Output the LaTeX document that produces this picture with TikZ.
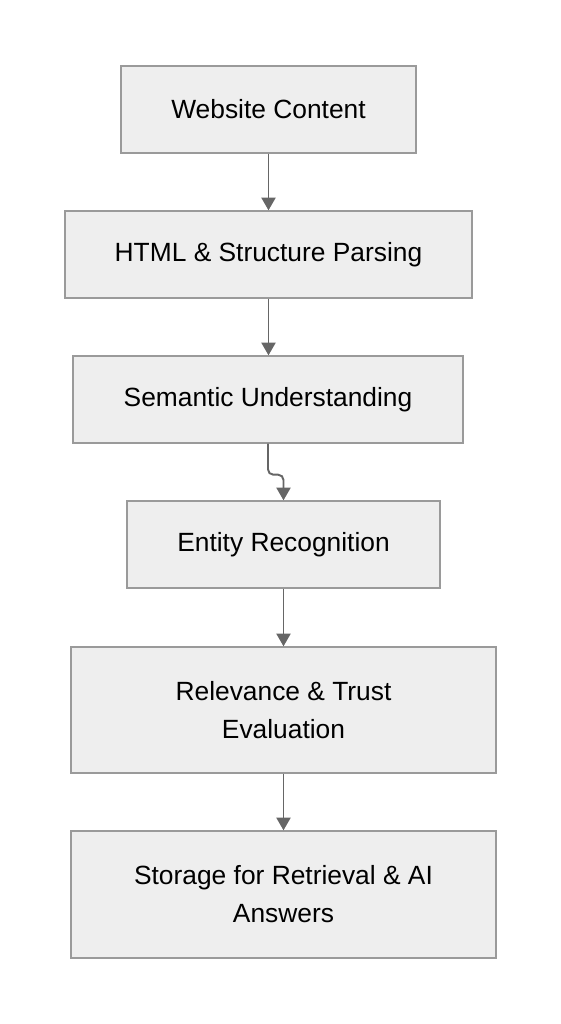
\documentclass[tikz,border=0pt]{standalone}
\usepackage{fontspec}
\setmainfont{Liberation Sans}
\usepackage{xcolor}
\usetikzlibrary{positioning,arrows.meta}
\definecolor{boxfill}{HTML}{EEEEEE}
\definecolor{boxline}{HTML}{9A9A9A}
\definecolor{arrowgray}{HTML}{666666}

\begin{document}
\begin{tikzpicture}[x=0.02cm,y=-0.02cm,
    stage/.style={draw=boxline, fill=boxfill, line width=0.8pt, minimum height=1.74cm,
                  align=center, inner sep=0pt, font=\fontsize{15}{21.6}\selectfont},
    flow/.style={draw=arrowgray, line width=1.1pt, -{Triangle[width=8pt,length=7.2pt]}}]
    \useasboundingbox (0,0) rectangle (561,1024);

    % Stages
    \node[stage, minimum width=5.9cm]  (web) at (268.5,109.5) {Website Content};
    \node[stage, minimum width=8.14cm] (html) at (268.5,254.5) {HTML \& Structure Parsing};
    \node[stage, minimum width=7.8cm]  (sem) at (268,399.5) {Semantic Understanding};
    \node[stage, minimum width=6.26cm] (ent) at (283.5,544.5) {Entity Recognition};
    \node[stage, minimum width=8.5cm, minimum height=2.52cm] (rel) at (283.5,710) {Relevance \& Trust\\Evaluation};
    \node[stage, minimum width=8.5cm, minimum height=2.54cm] (sto) at (283.5,894.5) {Storage for Retrieval \& AI\\Answers};

    % Flow
    \draw[flow] (web) -- (html);
    \draw[flow] (html.south) -- (html.south |- sem.north);
    \draw[flow, rounded corners=3pt] (sem.south) -- ++(0,31) -| (ent.north);
    \draw[flow] (ent) -- (rel);
    \draw[flow] (rel) -- (sto);
\end{tikzpicture}
\end{document}
